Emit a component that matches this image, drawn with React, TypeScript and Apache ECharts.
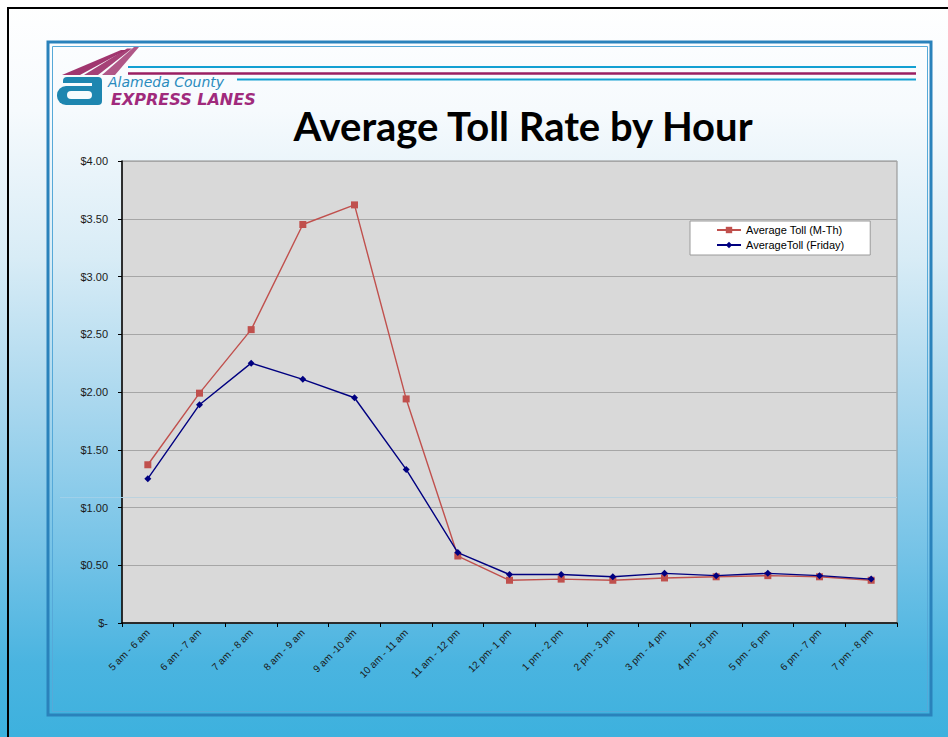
import React, { useEffect, useRef } from "react";
import * as echarts from "echarts";

const categories = [
  "5 am - 6 am", "6 am - 7 am", "7 am - 8 am", "8 am - 9 am", "9 am -10 am",
  "10 am - 11 am", "11 am - 12 pm", "12 pm- 1 pm", "1 pm - 2 pm", "2 pm - 3 pm",
  "3 pm - 4 pm", "4 pm - 5 pm", "5 pm - 6 pm", "6 pm - 7 pm", "7 pm - 8 pm",
];
const tollMonThu = [1.37, 1.99, 2.54, 3.45, 3.62, 1.94, 0.58, 0.37, 0.38, 0.37, 0.39, 0.4, 0.41, 0.4, 0.37];
const tollFriday = [1.25, 1.89, 2.25, 2.11, 1.95, 1.33, 0.61, 0.42, 0.42, 0.4, 0.43, 0.41, 0.43, 0.41, 0.38];
const seriesNames = ["Average Toll (M-Th)", "AverageToll (Friday)"];
const titleText = "Average Toll Rate by Hour";
const logoLine1 = "Alameda County";
const logoLine2 = "EXPRESS LANES";

export default function App() {
  const ref = useRef<HTMLDivElement>(null);
  useEffect(() => {
    document.body.style.margin = "0";
    if (!ref.current) return;
    const chart = echarts.init(ref.current, undefined, { renderer: "svg" });
    const teal = "#1e86b0";
    const magenta = "#97205f";
    chart.setOption({
      animation: false,
      backgroundColor: "transparent",
      title: {
        text: titleText,
        left: 518,
        top: 101,
        textAlign: "center",
        textStyle: { fontFamily: "Lato", fontWeight: "bold", fontSize: 40, color: "#000" },
      },
      legend: {
        orient: "vertical",
        left: 690,
        top: 221,
        data: seriesNames,
        backgroundColor: "#fff",
        borderColor: "#9a9a9a",
        borderWidth: 1,
        borderRadius: 0,
        padding: [3, 26, 4, 26],
        itemWidth: 24,
        itemHeight: 8,
        itemGap: 3,
        textStyle: { fontFamily: "Arial, Liberation Sans", fontSize: 11, color: "#000", lineHeight: 12 },
      },
      grid: {
        left: 122,
        top: 161,
        width: 775,
        height: 462,
        show: true,
        backgroundColor: "#d9d9d9",
        borderColor: "#8c8c8c",
        borderWidth: 1,
      },
      xAxis: {
        type: "category",
        data: categories,
        boundaryGap: true,
        axisLine: { show: true, lineStyle: { color: "#000", width: 1.5 } },
        axisTick: { show: true, length: 4, inside: false, lineStyle: { color: "#000" } },
        axisLabel: {
          interval: 0,
          rotate: 45,
          margin: 8,
          fontFamily: "Arial, Liberation Sans",
          fontSize: 10,
          color: "#1a1a1a",
        },
        splitLine: { show: false },
      },
      yAxis: {
        type: "value",
        min: 0,
        max: 4,
        interval: 0.5,
        axisLine: { show: true, lineStyle: { color: "#000", width: 1.5 } },
        axisTick: { show: true, length: 4, lineStyle: { color: "#000" } },
        axisLabel: {
          margin: 14,
          fontFamily: "Arial, Liberation Sans",
          fontSize: 11,
          color: "#1a1a1a",
          formatter: (v: number) => (v === 0 ? "$-" : "$" + v.toFixed(2)),
        },
        splitLine: { show: true, lineStyle: { color: "#a6a6a6", width: 1 } },
      },
      series: [
        {
          name: seriesNames[0],
          type: "line",
          data: tollMonThu,
          symbol: "rect",
          symbolSize: 7,
          lineStyle: { color: "#c0504d", width: 1.4 },
          itemStyle: { color: "#c0504d" },
          z: 3,
        },
        {
          name: seriesNames[1],
          type: "line",
          data: tollFriday,
          symbol: "diamond",
          symbolSize: 7,
          lineStyle: { color: "#000080", width: 1.4 },
          itemStyle: { color: "#000080" },
          z: 4,
        },
      ],
      graphic: [
        // outer black border
        { type: "line", shape: { x1: 7, y1: 8, x2: 948, y2: 8 }, style: { stroke: "#000", lineWidth: 2 } },
        { type: "line", shape: { x1: 8, y1: 7, x2: 8, y2: 737 }, style: { stroke: "#000", lineWidth: 2 } },
        // frame
        { type: "rect", shape: { x: 48, y: 42, width: 883, height: 673 }, style: { fill: "none", stroke: "#2a82bb", lineWidth: 3 } },
        { type: "rect", shape: { x: 52.5, y: 46.5, width: 875, height: 665 }, style: { fill: "none", stroke: "#56a9d8", lineWidth: 1 } },
        // header lines
        { type: "line", shape: { x1: 128, y1: 67, x2: 916, y2: 67 }, style: { stroke: "#13a0d2", lineWidth: 2 } },
        { type: "line", shape: { x1: 128, y1: 73.5, x2: 916, y2: 73.5 }, style: { stroke: "#9a1f62", lineWidth: 2.5 } },
        { type: "line", shape: { x1: 237, y1: 79.5, x2: 916, y2: 79.5 }, style: { stroke: "#13a0d2", lineWidth: 2 } },
        // artifact line
        { type: "line", shape: { x1: 60, y1: 497.5, x2: 123, y2: 497.5 }, style: { stroke: "#9fd0ea", lineWidth: 1 }, z: 10 },
        { type: "line", shape: { x1: 123, y1: 497.5, x2: 897, y2: 497.5 }, style: { stroke: "#bcd2de", lineWidth: 1 }, z: 1 },
        // logo stripes
        { type: "polygon", shape: { points: [[62, 75], [80, 75], [126, 50], [121, 50]] }, style: { fill: magenta, opacity: 0.9 } },
        { type: "polygon", shape: { points: [[84, 75], [98, 75], [132, 48.5], [127, 48.5]] }, style: { fill: magenta, opacity: 0.85 } },
        { type: "polygon", shape: { points: [[102, 75], [115, 75], [139, 47], [134, 47]] }, style: { fill: magenta, opacity: 0.75 } },
        // logo "a"
        { type: "rect", shape: { x: 57, y: 86, width: 45, height: 19, r: 9 }, style: { fill: teal } },
        { type: "rect", shape: { x: 67, y: 91, width: 25, height: 8, r: 4 }, style: { fill: "#f7fbfd" } },
        { type: "rect", shape: { x: 63, y: 77, width: 37, height: 6, r: [4, 4, 0, 0] }, style: { fill: teal } },
        { type: "rect", shape: { x: 92, y: 77, width: 10, height: 28, r: [0, 4, 4, 0] }, style: { fill: teal } },
        {
          type: "text",
          left: 108,
          top: 75,
          style: { text: logoLine1, fill: "#2a8bbd", font: "italic 14px 'DejaVu Sans'" },
        },
        {
          type: "text",
          left: 111,
          top: 91,
          style: { text: logoLine2, fill: "#a02a7c", font: "italic bold 16px 'DejaVu Sans'" },
        },
      ],
    });
    return () => chart.dispose();
  }, []);
  return (
    <div
      ref={ref}
      style={{
        width: 948,
        height: 737,
        background:
          "linear-gradient(to bottom, #ffffff 0%, #f6fafd 15%, #d8ecf6 35%, #a9d7ee 55%, #75c3e7 75%, #4ab4e0 90%, #3db1de 100%)",
      }}
    />
  );
}
